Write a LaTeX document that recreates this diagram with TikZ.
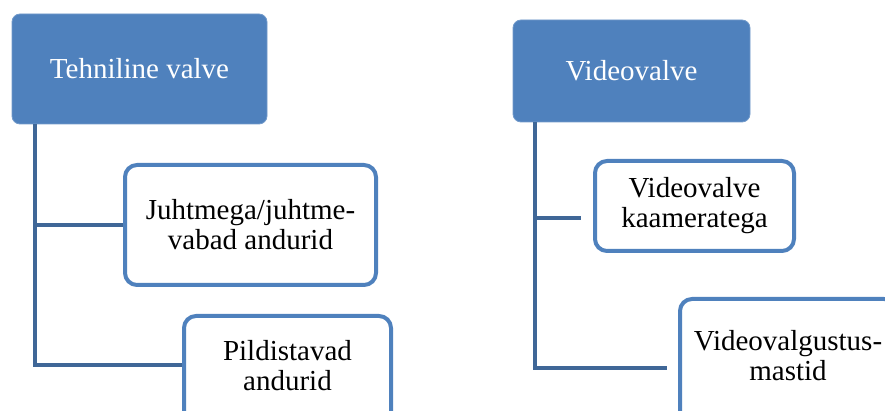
\documentclass[tikz,border=0pt]{standalone}
\usepackage{fontspec}
\setmainfont{Liberation Serif}
\usepackage{tikz}
\usetikzlibrary{calc}
\definecolor{valveblue}{HTML}{4F81BD}
\definecolor{linkblue}{HTML}{3F6797}
\def\padbelow#1{\rule[-#1]{0pt}{0pt}}
\tikzset{
	headbox/.style={draw=valveblue!80!white, line width=0.4pt, fill=valveblue, rounded corners=4pt,
		text=white, align=center, inner sep=0pt},
	itembox/.style={draw=valveblue, line width=2pt, fill=white, rounded corners=6pt,
		align=center, inner sep=0pt},
	link/.style={draw=linkblue, line width=2pt},
}

\begin{document}
\begin{tikzpicture}[x=0.5pt, y=-0.5pt, font=\fontsize{14.5}{15}\selectfont]
		%%%%% START %%%%%
		
		\useasboundingbox (0, 0) rectangle (885, 411);
		
		% left column
		\node[headbox, minimum width=127.5pt, minimum height=55pt] (tech) at (139.5, 69) {Tehniline valve};
		\node[itembox, minimum width=125.5pt, minimum height=60pt] (wired) at (250.5, 225) {Juhtmega/juhtme-\\vabad andurid};
		\node[itembox, minimum width=103.5pt, minimum height=70pt] (imaging) at (287.5, 386) {Pildistavad\\andurid\padbelow{21pt}};
		
		\draw[link] ([xshift=11.5pt]tech.south west) |- (wired.west);
		\draw[link] ([xshift=11.5pt]tech.south west) |- ([yshift=10.5pt]imaging.west);
		
		% right column
		\node[headbox, minimum width=118.5pt, minimum height=51pt] (video) at (631.5, 71) {Videovalve};
		\node[itembox, minimum width=99.5pt, minimum height=45pt] (cameras) at (694.5, 206) {Videovalve\\kaameratega};
		\node[itembox, minimum width=108pt, minimum height=70pt] (masts) at (788, 369) {Videovalgustus-\\mastid\padbelow{14pt}};
		
		\coordinate (camerasend) at (581, 218);
		\coordinate (mastsend) at (667, 368);
		\draw[link] ([xshift=11pt]video.south west) |- (camerasend);
		\draw[link] ([xshift=11pt]video.south west) |- (mastsend);
		
		%%%%% END %%%%%
	\end{tikzpicture}
\end{document}
